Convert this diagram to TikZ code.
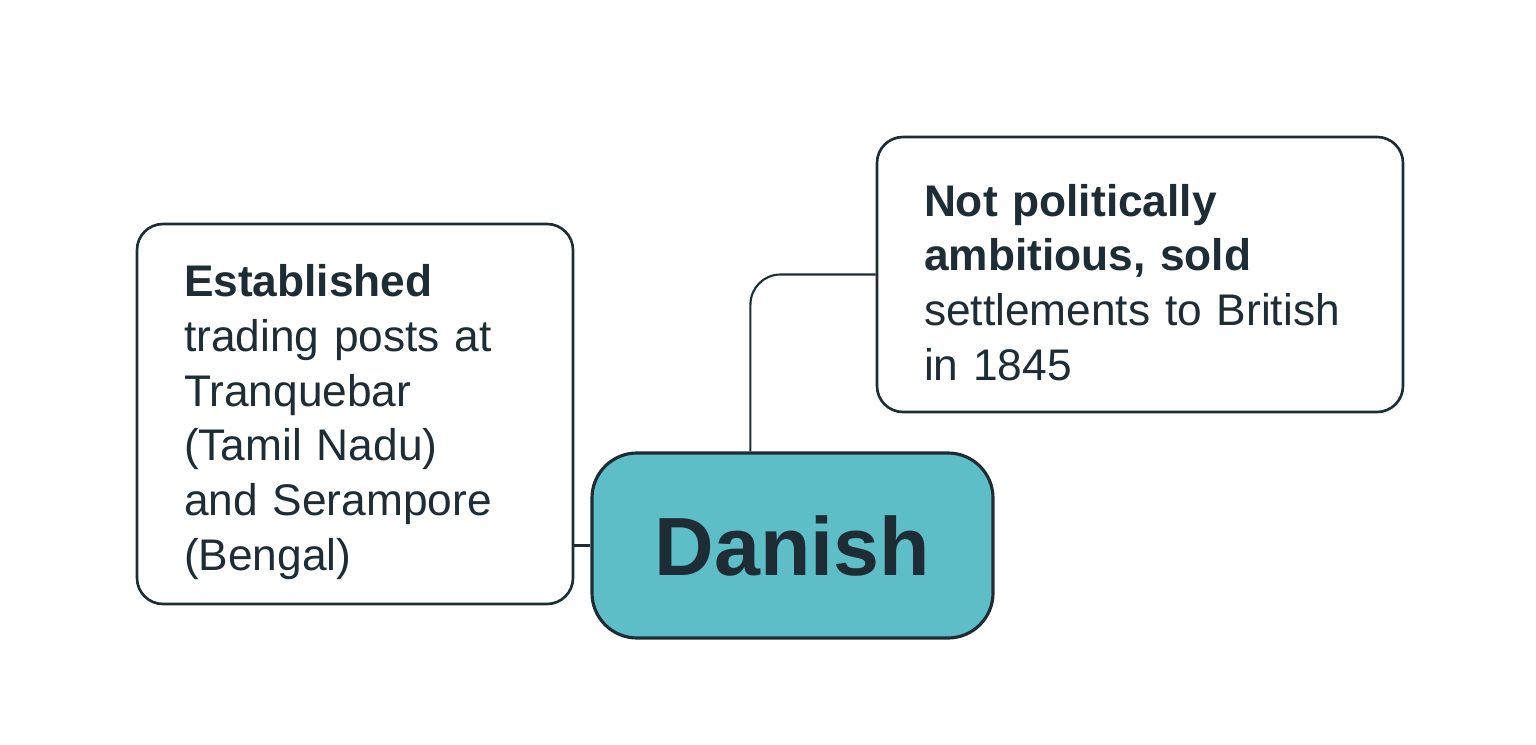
\documentclass[tikz,border=0pt]{standalone}
\usepackage{fontspec}
\setmainfont{Liberation Sans}
\usetikzlibrary{positioning}
\definecolor{inkdark}{HTML}{1E2D35}
\definecolor{danishteal}{HTML}{5EBEC8}
\newcommand{\headgap}{\rule{0pt}{13.7pt}}
\begin{document}
\begin{tikzpicture}[
	notebox/.style = {draw = inkdark, line width = 0.75pt, rounded corners = 0.26cm, fill = white, text = inkdark, align = left, inner xsep = 0.47cm, font = \fontsize{12.6pt}{15.6pt}\selectfont},
	topicbox/.style = {draw = inkdark, line width = 0.9pt, rounded corners = 0.45cm, fill = danishteal, text = inkdark, font = \fontsize{23.5pt}{28pt}\selectfont\bfseries},
	link/.style = {draw = inkdark, line width = 0.6pt}
	]
	\useasboundingbox (0, 0) rectangle (15.36, -7.45);
	\node [topicbox, minimum width = 4.01cm, minimum height = 1.85cm] (danish) at (7.925, -5.455) {Danish};
	\node [notebox, minimum width = 4.36cm, minimum height = 3.8cm, text width = 3.42cm] (posts) at (3.55, -4.14) {\headgap\textbf{Established}\\trading posts at\\Tranquebar\\(Tamil Nadu)\\and Serampore\\(Bengal)};
	\node [notebox, minimum width = 5.26cm, minimum height = 2.75cm, text width = 4.32cm] (sold) at (11.4, -2.745) {\headgap\textbf{Not politically}\\\textbf{ambitious, sold}\\settlements to British\\in 1845};
	\draw [link] (danish.west) -- (danish.west -| posts.east);
	\draw [link, rounded corners = 0.3cm] ([xshift = 1.6cm]danish.north west) |- (sold.west);
\end{tikzpicture}
\end{document}
